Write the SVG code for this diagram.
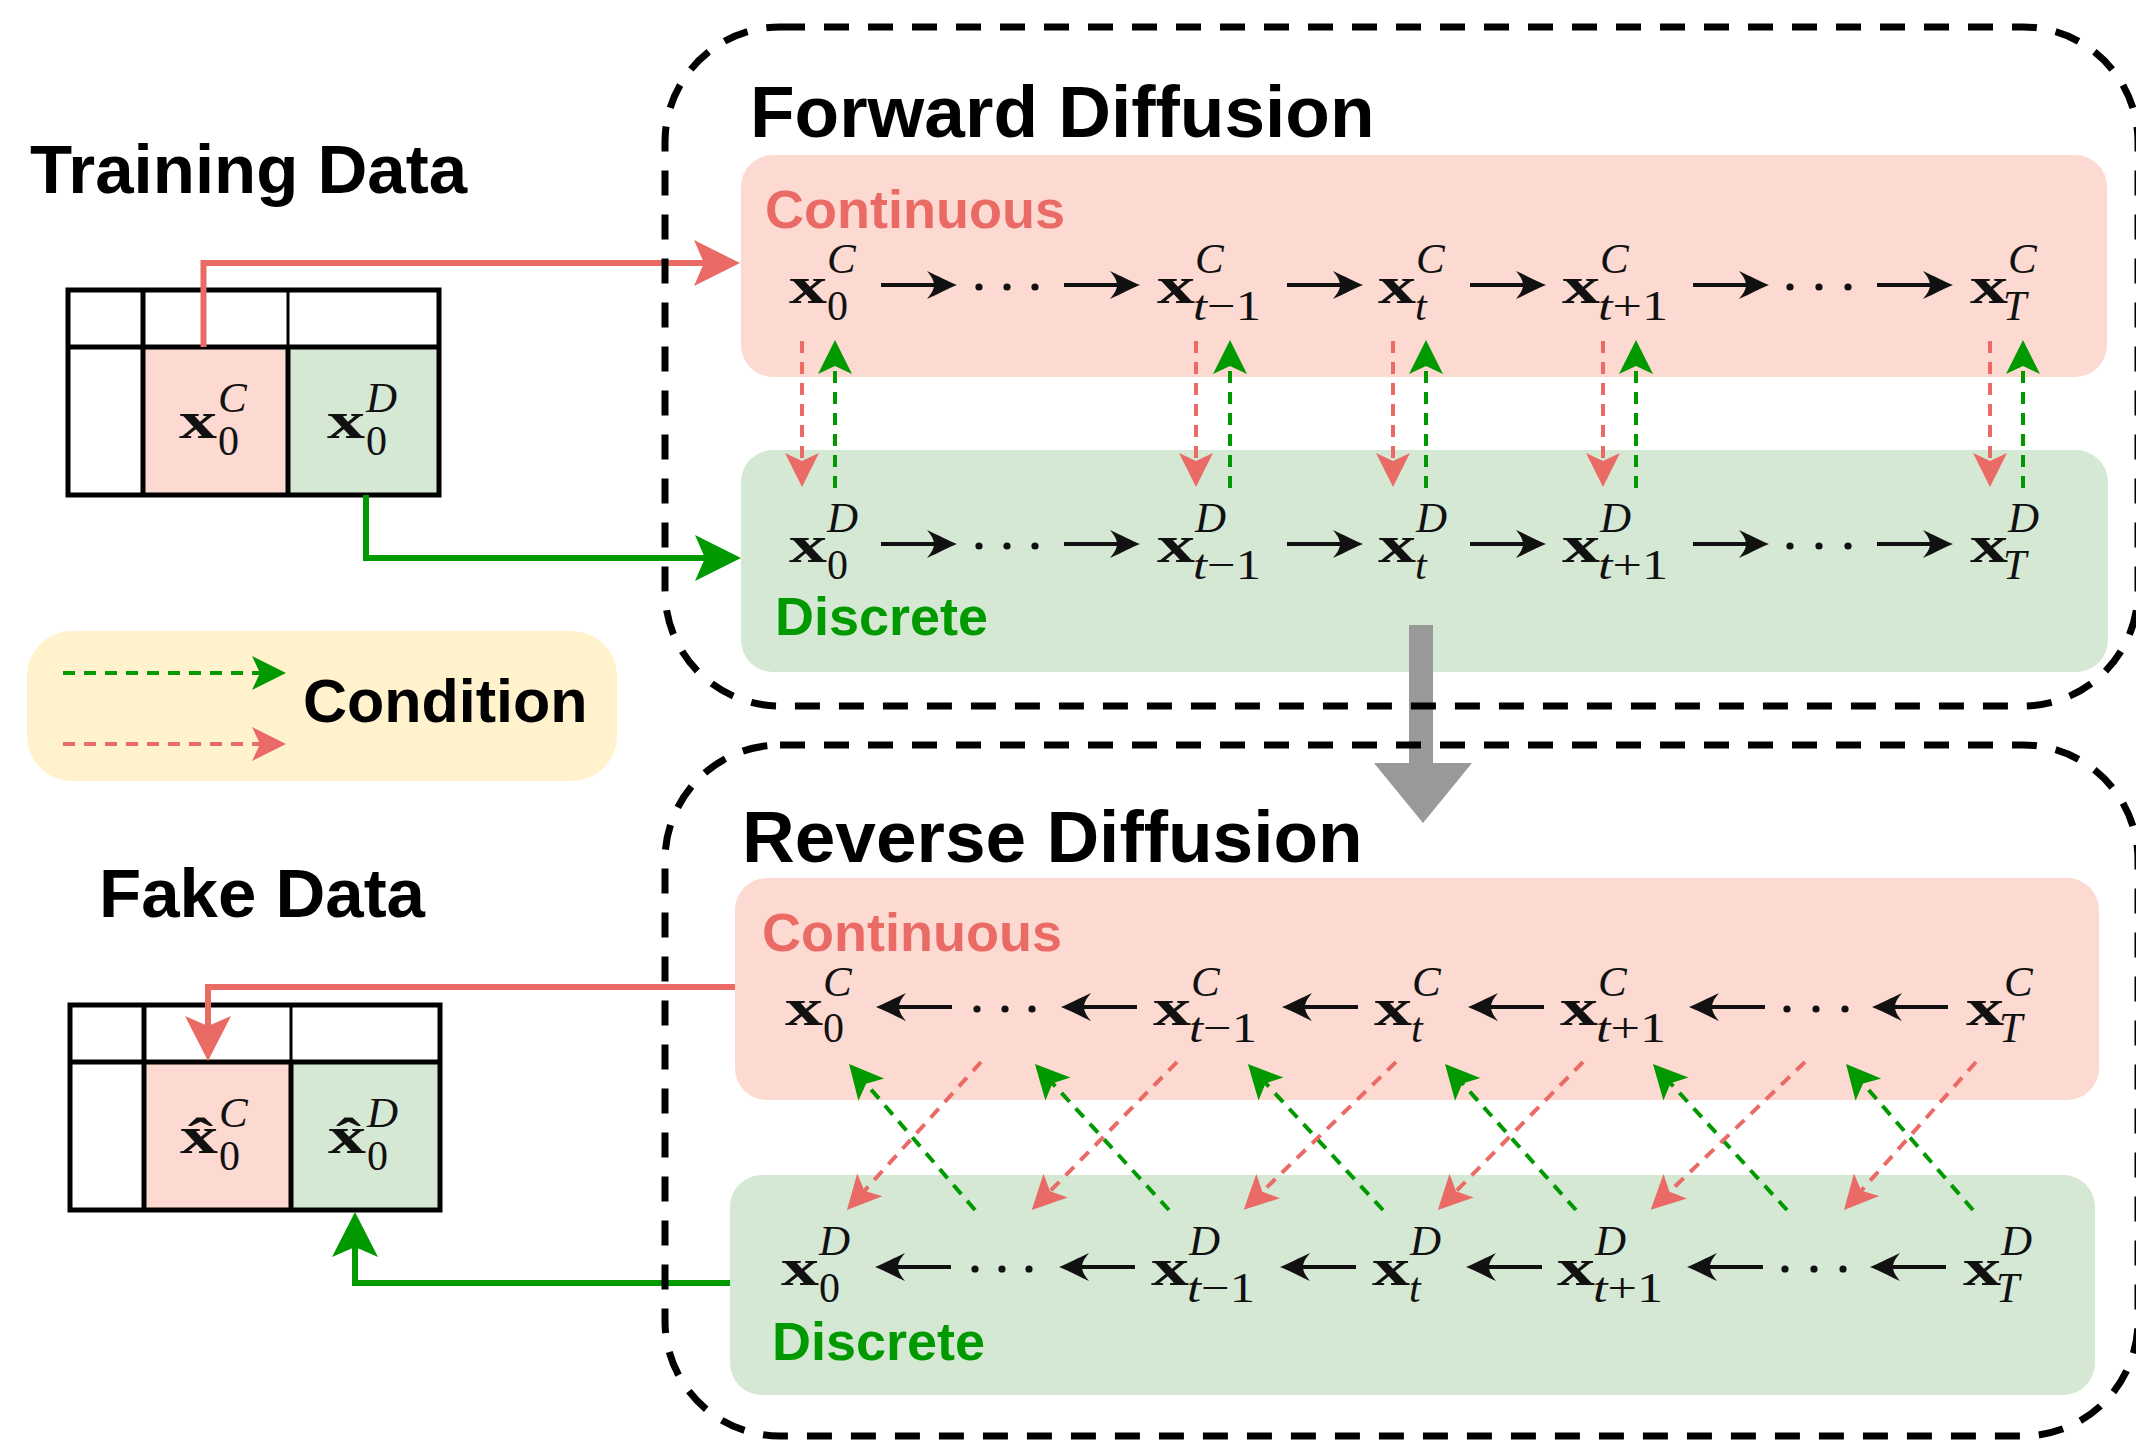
<svg xmlns="http://www.w3.org/2000/svg" xmlns:xlink="http://www.w3.org/1999/xlink" width="2136" height="1441" viewBox="0 0 2136 1441">
  <style>
    .ttl{font-family:"Liberation Sans",Arial,sans-serif;font-weight:bold;fill:#000}
    .red{font-family:"Liberation Sans",Arial,sans-serif;font-weight:bold;font-size:54px;fill:#EA6B66}
    .grn{font-family:"Liberation Sans",Arial,sans-serif;font-weight:bold;font-size:54px;fill:#009900}
    .mx{font-family:"Liberation Serif","Times New Roman",serif;font-weight:bold;font-size:52px;fill:#111}
    .ms{font-family:"Liberation Serif","Times New Roman",serif;font-style:italic;font-size:43px;fill:#111}
    .mn{font-family:"Liberation Serif","Times New Roman",serif;font-size:42px;fill:#111}
    .it{font-style:italic}
    .pink{fill:#FCD9D1}
    .mint{fill:#D5E8D4}
    .frame{fill:none;stroke:#000;stroke-width:7;stroke-dasharray:25 19}
    .grid{fill:none;stroke:#000;stroke-width:5}
    .cr{fill:none;stroke:#EA6B66;stroke-width:4;stroke-dasharray:12 9;marker-end:url(#hr)}
    .cg{fill:none;stroke:#009900;stroke-width:4;stroke-dasharray:12 9;marker-end:url(#hg)}
    .dot{fill:#111}
  </style>
  <defs>
    <marker id="hr" viewBox="-40 -20 50 40" markerUnits="userSpaceOnUse" markerWidth="50" markerHeight="40" refX="0" refY="0" orient="auto">
      <path d="M6,0 L-28,-17 L-20,0 L-28,17 Z" fill="#EA6B66"/>
    </marker>
    <marker id="hg" viewBox="-40 -20 50 40" markerUnits="userSpaceOnUse" markerWidth="50" markerHeight="40" refX="0" refY="0" orient="auto">
      <path d="M6,0 L-28,-17 L-20,0 L-28,17 Z" fill="#009900"/>
    </marker>
    <!-- math-style long arrows, right and left pointing -->
    <g id="ar">
      <path d="M0,0 H60" stroke="#111" stroke-width="4"/>
      <path d="M76,0 C68,-3 57,-9 46,-14 C51,-8 53,-4 53,0 C53,4 51,8 46,14 C57,9 68,3 76,0 Z" fill="#111"/>
    </g>
    <g id="al">
      <path d="M0,0 H-60" stroke="#111" stroke-width="4"/>
      <path d="M-76,0 C-68,-3 -57,-9 -46,-14 C-51,-8 -53,-4 -53,0 C-53,4 -51,8 -46,14 C-57,9 -68,3 -76,0 Z" fill="#111"/>
    </g>
  </defs>

  <!-- legend -->
  <g id="legend">
    <rect x="27" y="631" width="590" height="150" rx="45" fill="#FFF2CC"/>
    <path class="cg" d="M63,673 H280"/>
    <path class="cr" d="M63,744 H280"/>
    <text class="ttl" x="303" y="722" font-size="61">Condition</text>
  </g>

  <!-- training table -->
  <g id="training-data">
    <text class="ttl" x="30" y="193" font-size="69">Training Data</text>
    <rect class="pink" x="143" y="347" width="145" height="148"/>
    <rect class="mint" x="288" y="347" width="151" height="148"/>
    <rect class="grid" x="68" y="290" width="371" height="205"/>
    <path class="grid" d="M68,347 H439 M143,290 V495 M288,347 V495"/>
    <path d="M288,290 V347" stroke="#000" stroke-width="3"/>
    <text class="mx" x="179" y="438" textLength="38" lengthAdjust="spacingAndGlyphs">x</text>
    <text class="ms" x="218" y="412">C</text>
    <text class="mn" x="218" y="455">0</text>
    <text class="mx" x="327" y="438" textLength="38" lengthAdjust="spacingAndGlyphs">x</text>
    <text class="ms" x="366" y="412">D</text>
    <text class="mn" x="366" y="455">0</text>
  </g>

  <!-- generated table -->
  <g id="fake-data">
    <text class="ttl" x="99" y="917" font-size="69">Fake Data</text>
    <rect class="pink" x="144" y="1062" width="147" height="148"/>
    <rect class="mint" x="291" y="1062" width="149" height="148"/>
    <rect class="grid" x="70" y="1005" width="370" height="205"/>
    <path class="grid" d="M70,1062 H440 M144,1005 V1210 M291,1062 V1210"/>
    <path d="M291,1005 V1062" stroke="#000" stroke-width="3"/>
    <text class="mx" x="180" y="1153" textLength="38" lengthAdjust="spacingAndGlyphs">x̂</text>
    <text class="ms" x="219" y="1127">C</text>
    <text class="mn" x="219" y="1170">0</text>
    <text class="mx" x="328" y="1153" textLength="38" lengthAdjust="spacingAndGlyphs">x̂</text>
    <text class="ms" x="367" y="1127">D</text>
    <text class="mn" x="367" y="1170">0</text>
  </g>

  <!-- forward process lanes -->
  <g id="forward-continuous">
    <rect class="pink" x="741" y="155" width="1366" height="222" rx="32"/>
    <text class="red" x="765" y="228">Continuous</text>
  </g>
  <g id="forward-discrete">
    <rect class="mint" x="741" y="450" width="1367" height="222" rx="32"/>
    <text class="grn" x="775" y="635">Discrete</text>
  </g>

  <!-- reverse process lanes -->
  <g id="reverse-continuous">
    <rect class="pink" x="735" y="878" width="1364" height="222" rx="32"/>
    <text class="red" x="762" y="951">Continuous</text>
  </g>
  <g id="reverse-discrete">
    <rect class="mint" x="730" y="1175" width="1365" height="220" rx="32"/>
    <text class="grn" x="772" y="1360">Discrete</text>
  </g>

  <!-- forward continuous states -->
  <g id="fc-0"><text class="mx" x="789" y="303" textLength="38" lengthAdjust="spacingAndGlyphs">x</text><text class="ms" x="827" y="273">C</text><text class="mn" x="827" y="320">0</text></g>
  <g id="fc-tm1"><text class="mx" x="1157" y="303" textLength="38" lengthAdjust="spacingAndGlyphs">x</text><text class="ms" x="1195" y="273">C</text><text class="mn" x="1193" y="320" textLength="68" lengthAdjust="spacingAndGlyphs"><tspan class="it">t</tspan>−1</text></g>
  <g id="fc-t"><text class="mx" x="1378" y="303" textLength="38" lengthAdjust="spacingAndGlyphs">x</text><text class="ms" x="1416" y="273">C</text><text class="mn it" x="1415" y="320">t</text></g>
  <g id="fc-tp1"><text class="mx" x="1562" y="303" textLength="38" lengthAdjust="spacingAndGlyphs">x</text><text class="ms" x="1600" y="273">C</text><text class="mn" x="1598" y="320" textLength="70" lengthAdjust="spacingAndGlyphs"><tspan class="it">t</tspan>+1</text></g>
  <g id="fc-T"><text class="mx" x="1970" y="303" textLength="38" lengthAdjust="spacingAndGlyphs">x</text><text class="ms" x="2008" y="273">C</text><text class="mn it" x="2003" y="320">T</text></g>

  <!-- forward discrete states -->
  <g id="fd-0"><text class="mx" x="789" y="562" textLength="38" lengthAdjust="spacingAndGlyphs">x</text><text class="ms" x="827" y="532">D</text><text class="mn" x="827" y="579">0</text></g>
  <g id="fd-tm1"><text class="mx" x="1157" y="562" textLength="38" lengthAdjust="spacingAndGlyphs">x</text><text class="ms" x="1195" y="532">D</text><text class="mn" x="1193" y="579" textLength="68" lengthAdjust="spacingAndGlyphs"><tspan class="it">t</tspan>−1</text></g>
  <g id="fd-t"><text class="mx" x="1378" y="562" textLength="38" lengthAdjust="spacingAndGlyphs">x</text><text class="ms" x="1416" y="532">D</text><text class="mn it" x="1415" y="579">t</text></g>
  <g id="fd-tp1"><text class="mx" x="1562" y="562" textLength="38" lengthAdjust="spacingAndGlyphs">x</text><text class="ms" x="1600" y="532">D</text><text class="mn" x="1598" y="579" textLength="70" lengthAdjust="spacingAndGlyphs"><tspan class="it">t</tspan>+1</text></g>
  <g id="fd-T"><text class="mx" x="1970" y="562" textLength="38" lengthAdjust="spacingAndGlyphs">x</text><text class="ms" x="2008" y="532">D</text><text class="mn it" x="2003" y="579">T</text></g>

  <!-- reverse continuous states -->
  <g id="rc-0"><text class="mx" x="785" y="1025" textLength="38" lengthAdjust="spacingAndGlyphs">x</text><text class="ms" x="823" y="996">C</text><text class="mn" x="823" y="1042">0</text></g>
  <g id="rc-tm1"><text class="mx" x="1153" y="1025" textLength="38" lengthAdjust="spacingAndGlyphs">x</text><text class="ms" x="1191" y="996">C</text><text class="mn" x="1189" y="1042" textLength="68" lengthAdjust="spacingAndGlyphs"><tspan class="it">t</tspan>−1</text></g>
  <g id="rc-t"><text class="mx" x="1374" y="1025" textLength="38" lengthAdjust="spacingAndGlyphs">x</text><text class="ms" x="1412" y="996">C</text><text class="mn it" x="1411" y="1042">t</text></g>
  <g id="rc-tp1"><text class="mx" x="1560" y="1025" textLength="38" lengthAdjust="spacingAndGlyphs">x</text><text class="ms" x="1598" y="996">C</text><text class="mn" x="1596" y="1042" textLength="70" lengthAdjust="spacingAndGlyphs"><tspan class="it">t</tspan>+1</text></g>
  <g id="rc-T"><text class="mx" x="1966" y="1025" textLength="38" lengthAdjust="spacingAndGlyphs">x</text><text class="ms" x="2004" y="996">C</text><text class="mn it" x="1999" y="1042">T</text></g>

  <!-- reverse discrete states -->
  <g id="rd-0"><text class="mx" x="781" y="1285" textLength="38" lengthAdjust="spacingAndGlyphs">x</text><text class="ms" x="819" y="1255">D</text><text class="mn" x="819" y="1302">0</text></g>
  <g id="rd-tm1"><text class="mx" x="1151" y="1285" textLength="38" lengthAdjust="spacingAndGlyphs">x</text><text class="ms" x="1189" y="1255">D</text><text class="mn" x="1187" y="1302" textLength="68" lengthAdjust="spacingAndGlyphs"><tspan class="it">t</tspan>−1</text></g>
  <g id="rd-t"><text class="mx" x="1372" y="1285" textLength="38" lengthAdjust="spacingAndGlyphs">x</text><text class="ms" x="1410" y="1255">D</text><text class="mn it" x="1409" y="1302">t</text></g>
  <g id="rd-tp1"><text class="mx" x="1557" y="1285" textLength="38" lengthAdjust="spacingAndGlyphs">x</text><text class="ms" x="1595" y="1255">D</text><text class="mn" x="1593" y="1302" textLength="70" lengthAdjust="spacingAndGlyphs"><tspan class="it">t</tspan>+1</text></g>
  <g id="rd-T"><text class="mx" x="1963" y="1285" textLength="38" lengthAdjust="spacingAndGlyphs">x</text><text class="ms" x="2001" y="1255">D</text><text class="mn it" x="1996" y="1302">T</text></g>

  <g id="connectors">
    <!-- data in / data out -->
    <path d="M203.5,347 V263 H706" fill="none" stroke="#EA6B66" stroke-width="6"/>
    <polygon points="740,263 694,240 704,263 694,286" fill="#EA6B66"/>
    <path d="M366,495 V558 H707" fill="none" stroke="#009900" stroke-width="6"/>
    <polygon points="741,558 695,535 705,558 695,581" fill="#009900"/>
    <path d="M735,987 H208 V1028" fill="none" stroke="#EA6B66" stroke-width="6"/>
    <polygon points="208,1061 185,1016 208,1026 231,1016" fill="#EA6B66"/>
    <path d="M730,1283 H355 V1246" fill="none" stroke="#009900" stroke-width="6"/>
    <polygon points="355,1212 332,1257 355,1247 378,1257" fill="#009900"/>

    <!-- forward chains -->
    <use xlink:href="#ar" x="881" y="285"/><use xlink:href="#ar" x="1064" y="285"/><use xlink:href="#ar" x="1287" y="285"/>
    <use xlink:href="#ar" x="1470" y="285"/><use xlink:href="#ar" x="1693" y="285"/><use xlink:href="#ar" x="1877" y="285"/>
    <use xlink:href="#ar" x="881" y="544"/><use xlink:href="#ar" x="1064" y="544"/><use xlink:href="#ar" x="1287" y="544"/>
    <use xlink:href="#ar" x="1470" y="544"/><use xlink:href="#ar" x="1693" y="544"/><use xlink:href="#ar" x="1877" y="544"/>
    <g class="dot">
      <circle cx="979" cy="287" r="3.6"/><circle cx="1007" cy="287" r="3.6"/><circle cx="1035" cy="287" r="3.6"/>
      <circle cx="1790" cy="287" r="3.6"/><circle cx="1819" cy="287" r="3.6"/><circle cx="1848" cy="287" r="3.6"/>
      <circle cx="979" cy="546" r="3.6"/><circle cx="1007" cy="546" r="3.6"/><circle cx="1035" cy="546" r="3.6"/>
      <circle cx="1790" cy="546" r="3.6"/><circle cx="1819" cy="546" r="3.6"/><circle cx="1848" cy="546" r="3.6"/>
    </g>

    <!-- reverse chains -->
    <use xlink:href="#al" x="952" y="1007"/><use xlink:href="#al" x="1137" y="1007"/><use xlink:href="#al" x="1358" y="1007"/>
    <use xlink:href="#al" x="1544" y="1007"/><use xlink:href="#al" x="1765" y="1007"/><use xlink:href="#al" x="1948" y="1007"/>
    <use xlink:href="#al" x="951" y="1267"/><use xlink:href="#al" x="1135" y="1267"/><use xlink:href="#al" x="1356" y="1267"/>
    <use xlink:href="#al" x="1542" y="1267"/><use xlink:href="#al" x="1763" y="1267"/><use xlink:href="#al" x="1946" y="1267"/>
    <g class="dot">
      <circle cx="977" cy="1009" r="3.6"/><circle cx="1005" cy="1009" r="3.6"/><circle cx="1032" cy="1009" r="3.6"/>
      <circle cx="1787" cy="1009" r="3.6"/><circle cx="1816" cy="1009" r="3.6"/><circle cx="1845" cy="1009" r="3.6"/>
      <circle cx="975" cy="1269" r="3.6"/><circle cx="1002" cy="1269" r="3.6"/><circle cx="1029" cy="1269" r="3.6"/>
      <circle cx="1785" cy="1269" r="3.6"/><circle cx="1814" cy="1269" r="3.6"/><circle cx="1843" cy="1269" r="3.6"/>
    </g>

    <!-- forward conditioning between lanes -->
    <path class="cr" d="M802,341 V481"/><path class="cg" d="M835,488 V346"/>
    <path class="cr" d="M1196,341 V481"/><path class="cg" d="M1230,488 V346"/>
    <path class="cr" d="M1393,341 V481"/><path class="cg" d="M1426,488 V346"/>
    <path class="cr" d="M1603,341 V481"/><path class="cg" d="M1636,488 V346"/>
    <path class="cr" d="M1990,341 V481"/><path class="cg" d="M2023,488 V346"/>

    <!-- reverse conditioning between lanes -->
    <path class="cg" d="M975,1210 L853,1068.5"/><path class="cr" d="M981,1062 L851,1205.6"/>
    <path class="cg" d="M1169,1210 L1039,1068.5"/><path class="cr" d="M1177,1062 L1036,1205.6"/>
    <path class="cg" d="M1383,1210 L1252,1068.5"/><path class="cr" d="M1396,1062 L1248,1205.6"/>
    <path class="cg" d="M1576,1210 L1449,1068.5"/><path class="cr" d="M1583,1062 L1442,1205.6"/>
    <path class="cg" d="M1787,1210 L1657,1068.5"/><path class="cr" d="M1805,1062 L1655,1205.6"/>
    <path class="cg" d="M1973,1210 L1850,1068.5"/><path class="cr" d="M1976,1062 L1848,1205.6"/>

    <!-- forward to reverse -->
    <g id="stage-arrow" fill="#999999">
      <rect x="1409" y="625" width="24" height="139"/>
      <polygon points="1374,763 1472,763 1423,823"/>
    </g>
  </g>

  <!-- dashed stage frames -->
  <g id="forward-diffusion">
    <rect class="frame" x="665" y="27" width="1473" height="679" rx="115"/>
    <text class="ttl" x="750" y="137" font-size="73">Forward Diffusion</text>
  </g>
  <g id="reverse-diffusion">
    <rect class="frame" x="665" y="745" width="1473" height="691" rx="115"/>
    <text class="ttl" x="742" y="862" font-size="73">Reverse Diffusion</text>
  </g>
</svg>
